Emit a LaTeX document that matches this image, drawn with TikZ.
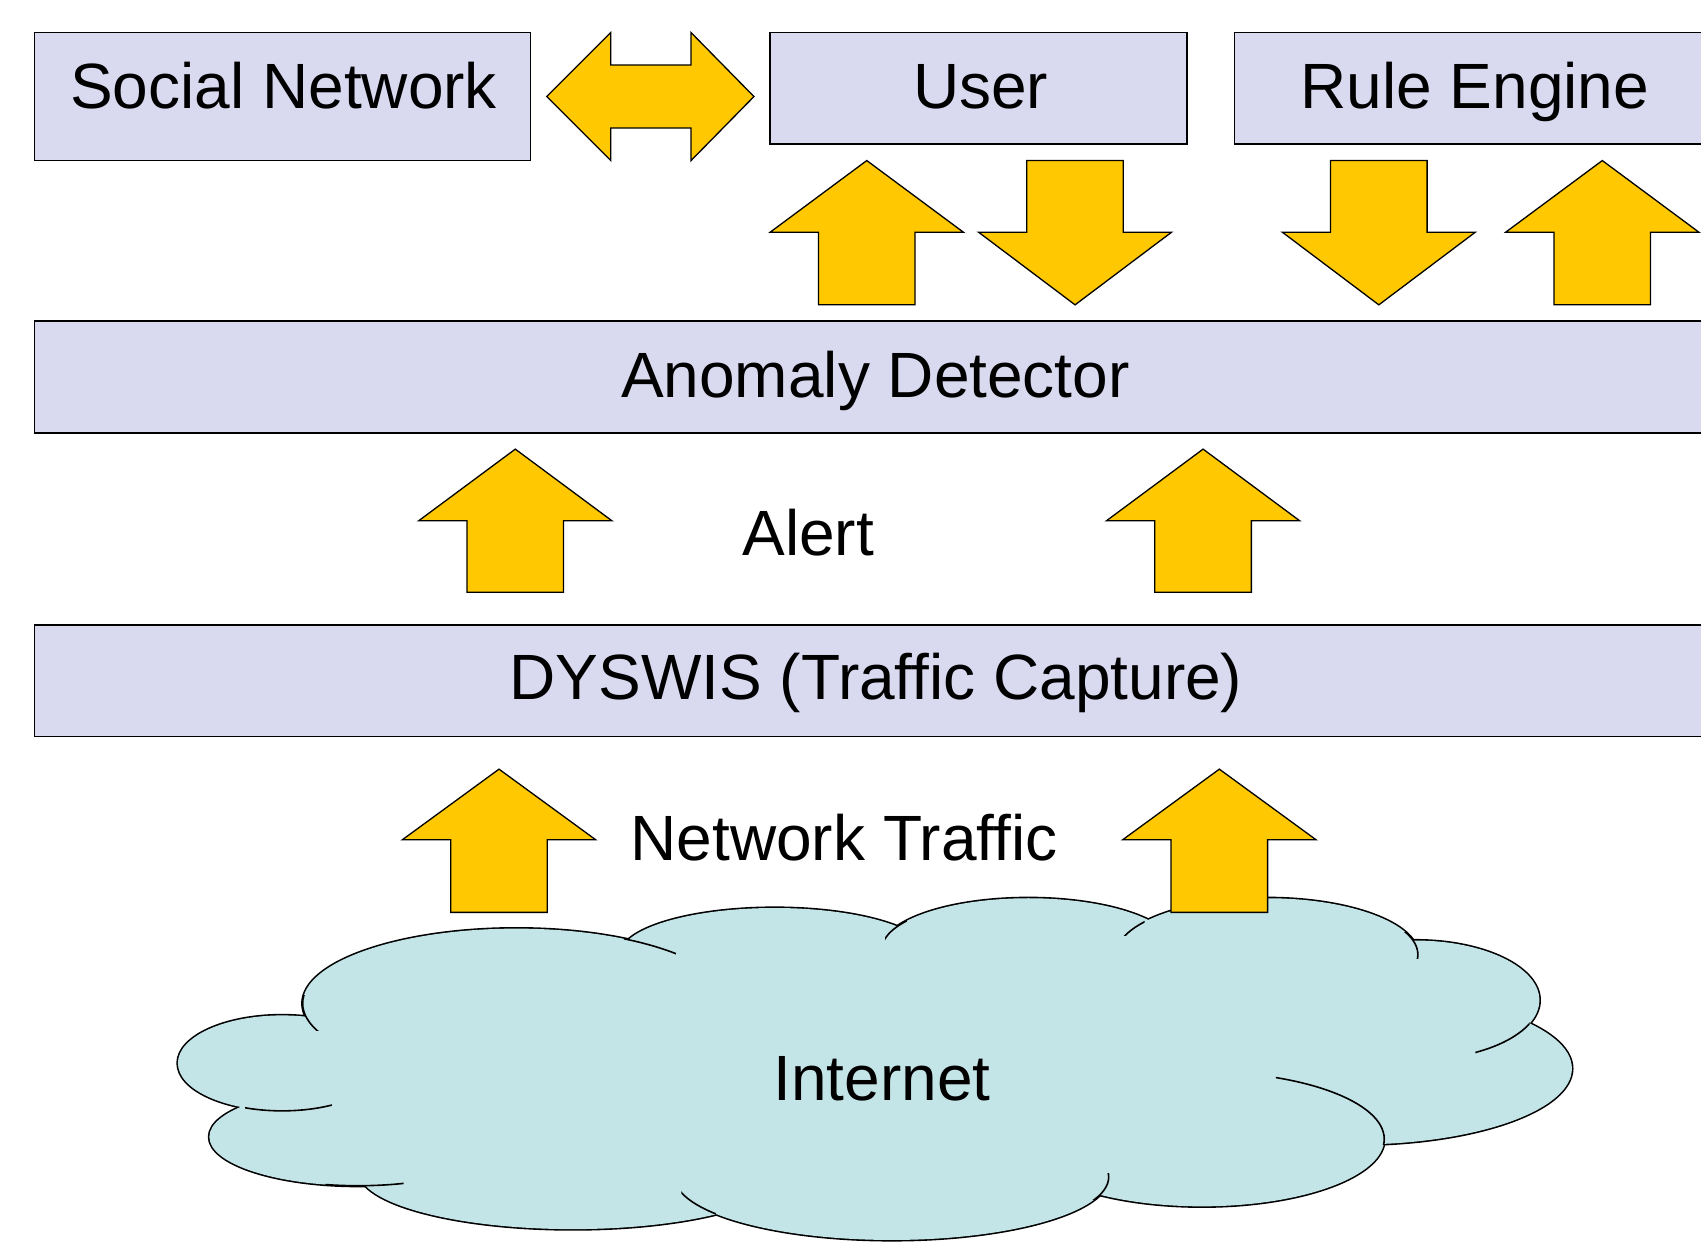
\documentclass[tikz,border=0pt]{standalone}
\usepackage{fontspec}
\setmainfont{Liberation Sans}
\definecolor{boxfill}{RGB}{217,217,240}
\definecolor{arrfill}{RGB}{255,200,0}
\definecolor{cloudfill}{RGB}{196,229,232}
\newcommand{\fatup}[4]{\draw[bigarrow] (#1,#2) -- ({#1+89},#3) -- ({#1+44.5},#3) -- ({#1+44.5},#4) -- ({#1-44.5},#4) -- ({#1-44.5},#3) -- ({#1-89},#3) -- cycle;}
\newcommand{\fatdown}[4]{\draw[bigarrow] ({#1-44.5},#2) -- ({#1+44.5},#2) -- ({#1+44.5},#3) -- ({#1+89},#3) -- (#1,#4) -- ({#1-89},#3) -- ({#1-44.5},#3) -- cycle;}
\newcommand{\creasearc}[8]{\begin{scope}\clip (#5,#6) rectangle (#7,#8); \draw[crease] (#1,#2) ellipse [x radius=#3, y radius=#4];\end{scope}}
\begin{document}
\begin{tikzpicture}[x=1.0848pt,y=-1.0848pt,
  box/.style={draw=black,line width=1.6pt,fill=boxfill,inner sep=0pt,outer sep=0pt},
  lbl/.style={font=\fontsize{64}{70}\selectfont,anchor=base,inner sep=0pt},
  bigarrow/.style={draw=black,line width=1.3pt,fill=arrfill,line join=miter},
  lobe/.style={draw=black,line width=3.2pt,fill=cloudfill},
  lobefill/.style={fill=cloudfill},
  crease/.style={draw=black,line width=1.6pt}]
\useasboundingbox (0,0) rectangle (1568,1144);
\fill[white] (0,0) rectangle (1568,1144);
\clip (0,0) rectangle (1568,1144);

% boxes
\node[box,minimum width=495.8pt,minimum height=128pt] (sn) at (260.5,89) {};
\node[box,minimum width=416.6pt,minimum height=111.7pt] (user) at (902,81.5) {};
\node[box,minimum width=480.6pt,minimum height=111.7pt] (rule) at (1359.5,81.5) {};
\node[box,minimum width=1680.4pt,minimum height=111.7pt] (anom) at (806.5,347.5) {};
\node[box,minimum width=1680.4pt,minimum height=111.7pt] (dys) at (806.5,627.5) {};

% labels
\node[lbl] (snl) at (261.5,100) {Social Network};
\node[lbl] (userl) at (904,100) {User};
\node[lbl] (rulel) at (1359.5,100) {Rule Engine};
\node[lbl] (anoml) at (807,366) {Anomaly Detector};
\node[lbl] (alertl) at (745,512) {Alert};
\node[lbl] (dysl) at (807.5,645) {DYSWIS (Traffic Capture)};
\node[lbl] (netl) at (778,793) {Network Traffic};

% double arrow
\draw[bigarrow] (504,89) -- (563,30) -- (563,60) -- (637,60) -- (637,30) -- (695,89) -- (637,148) -- (637,118) -- (563,118) -- (563,148) -- cycle;

% row 1 arrows
\fatup{799}{148}{214}{281}
\fatdown{991}{148}{214}{281}
\fatdown{1271}{148}{214}{281}
\fatup{1477}{148}{214}{281}

% alert arrows
\fatup{475}{414}{480}{546}
\fatup{1109}{414}{480}{546}

% cloud
\foreach \cx/\cy/\rx/\ry in {476/925/197/69, 714/880/142/43, 948/875/135/47, 1168/880/139/52, 1305/922/114/55, 1250/985/199/70, 1108/1050/168/62, 822/1085/200/58, 528/1080/197/53, 330/1048/137/45, 260/980/96/44}
  \draw[lobe] (\cx,\cy) ellipse [x radius=\rx, y radius=\ry];
\foreach \cx/\cy/\rx/\ry in {476/925/197/69, 714/880/142/43, 948/875/135/47, 1168/880/139/52, 1305/922/114/55, 1250/985/199/70, 1108/1050/168/62, 822/1085/200/58, 528/1080/197/53, 330/1048/137/45, 260/980/96/44}
  \fill[lobefill] (\cx,\cy) ellipse [x radius=\rx, y radius=\ry];
\fill[lobefill] (300,960) -- (500,900) -- (700,880) -- (950,870) -- (1170,870) -- (1300,920) -- (1350,990) -- (1250,1040) -- (1100,1080) -- (820,1100) -- (530,1100) -- (350,1060) -- (280,1000) -- cycle;
% creases
\creasearc{476}{925}{197}{69}{272}{918}{300}{950}
\creasearc{260}{980}{96}{44}{226}{1005}{306}{1028}
\creasearc{330}{1048}{137}{45}{300}{1075}{372}{1100}
\creasearc{822}{1085}{200}{58}{628}{1098}{660}{1125}
\creasearc{822}{1085}{200}{58}{1005}{1082}{1026}{1106}
\creasearc{1108}{1050}{168}{62}{1176}{985}{1290}{1055}
\creasearc{1305}{922}{114}{55}{1360}{938}{1410}{975}
\creasearc{1168}{880}{139}{52}{1290}{860}{1312}{884}
\creasearc{1168}{880}{139}{52}{1026}{838}{1055}{862}
\creasearc{948}{875}{135}{47}{816}{845}{836}{866}
\creasearc{476}{925}{197}{69}{575}{855}{623}{880}
\node[lbl] (inet) at (813,1014) {Internet};

% network traffic arrows
\fatup{460}{709}{774}{841}
\fatup{1124}{709}{774}{841}
\end{tikzpicture}
\end{document}
